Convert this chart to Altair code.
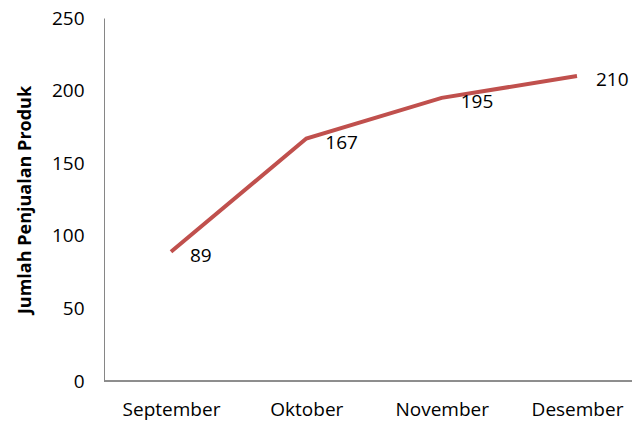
import altair as alt
import pandas as pd

months = ["September", "Oktober", "November", "Desember"]
sales = [89, 167, 195, 210]
y_ticks = [0, 50, 100, 150, 200, 250]

df = pd.DataFrame({"Bulan": months, "Penjualan": sales})

FONT = "Open Sans"
x_enc = alt.X("Bulan:N", sort=months,
              scale=alt.Scale(type="point", range=[67, 473], padding=0),
              axis=alt.Axis(title=None, labelAngle=0, ticks=False, domain=False,
                            labelFont=FONT, labelFontSize=19, labelColor="#000000",
                            labelPadding=19, grid=False))
y_enc = alt.Y("Penjualan:Q", scale=alt.Scale(domain=[0, 250], nice=False),
              axis=alt.Axis(title="Jumlah Penjualan Produk", values=y_ticks, ticks=False,
                            grid=False, domainColor="#868686",
                            labelFont=FONT, labelFontSize=19, labelColor="#000000",
                            labelPadding=20, titleFont=FONT, titleFontSize=18,
                            titleFontWeight="bold", titleColor="#000000", titlePadding=17))

base = alt.Chart(df)
xaxis_line = base.mark_rule(color="#868686", strokeWidth=1).encode(
    x=alt.value(0), x2=alt.value(528), y=alt.value(363))
line = base.mark_line(color="#C0504D", strokeWidth=4).encode(x=x_enc, y=y_enc)
labels = base.mark_text(align="left", baseline="middle", dx=19, dy=4,
                        font=FONT, fontSize=19, color="#000000").encode(
    x=x_enc, y=y_enc, text="Penjualan:Q")

chart = (xaxis_line + line + labels).properties(
    width=528, height=363,
    autosize=alt.AutoSizeParams(type="none"),
    padding={"left": 96, "top": 10, "right": 0, "bottom": 43},
).configure_view(stroke=None)

chart.save("out.html", embed_options={"renderer": "svg", "actions": False})
